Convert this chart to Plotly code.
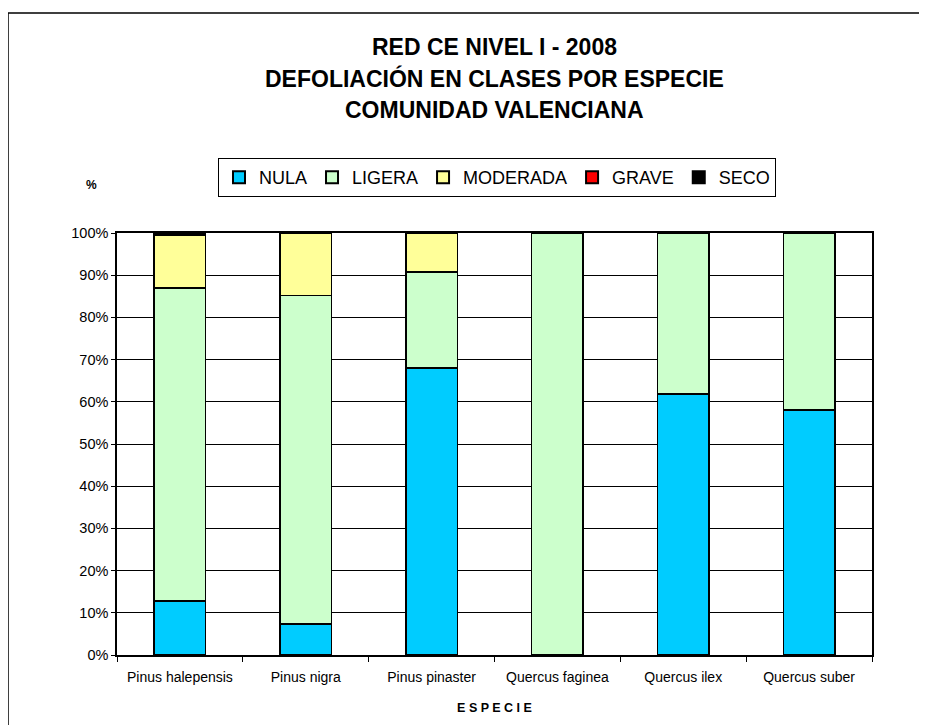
import plotly.graph_objects as go

especies = ["Pinus halepensis", "Pinus nigra", "Pinus pinaster",
            "Quercus faginea", "Quercus ilex", "Quercus suber"]
nula = [12.8, 7.4, 68.0, 0.0, 61.8, 58.1]
ligera = [74.2, 77.8, 22.8, 100.0, 38.2, 41.9]
moderada = [12.5, 14.8, 9.2, 0.0, 0.0, 0.0]
grave = [0.1, 0.0, 0.0, 0.0, 0.0, 0.0]
seco = [0.4, 0.0, 0.0, 0.0, 0.0, 0.0]

series = [
    ("NULA", nula, "#00CCFF"),
    ("LIGERA", ligera, "#CCFFCC"),
    ("MODERADA", moderada, "#FFFF99"),
    ("GRAVE", grave, "#FF0000"),
    ("SECO", seco, "#000000"),
]

FONT = "Liberation Sans, Arial, sans-serif"

fig = go.Figure()
for name, vals, col in series:
    fig.add_trace(go.Bar(
        x=especies, y=vals, name=name,
        marker=dict(color=col, line=dict(color="black", width=1.5)),
    ))

# page body has an 8px margin, so margins are shifted by that
fig.update_layout(
    barmode="stack",
    bargap=0.59,
    width=927, height=725,
    margin=dict(l=109, r=63, t=225, b=78),
    paper_bgcolor="white",
    plot_bgcolor="white",
    font=dict(family=FONT, color="black"),
    showlegend=True,
    legend=dict(
        orientation="h",
        x=(497 - 117) / 755, xanchor="center",
        y=(655 - 197) / 422, yanchor="bottom",
        font=dict(size=18, family=FONT),
        bordercolor="black", borderwidth=1,
        bgcolor="white",
        itemsizing="constant",
        traceorder="normal",
        itemwidth=30,
    ),
)

fig.update_yaxes(
    range=[0, 100], dtick=10, ticksuffix="%",
    showgrid=True, gridcolor="black", gridwidth=1,
    showline=True, linecolor="black", linewidth=1.5, mirror=True,
    ticks="outside", ticklen=4, tickcolor="black",
    tickfont=dict(size=14.5),
    zeroline=False,
)
fig.update_xaxes(
    showline=True, linecolor="black", linewidth=1.5, mirror=True,
    ticks="outside", ticklen=5, tickcolor="black", tickson="boundaries",
    tickfont=dict(size=14),
    ticklabelstandoff=8,
    title=dict(text="<b>E S P E C I E</b>", font=dict(size=12.5), standoff=20),
)

# title lines
for txt, yy in [("RED CE NIVEL I - 2008", 47),
                ("DEFOLIACIÓN EN CLASES POR ESPECIE", 78),
                ("COMUNIDAD VALENCIANA", 110)]:
    fig.add_annotation(
        text="<b>" + txt + "</b>", xref="paper", yref="paper",
        x=(494 - 117) / 755, y=(655 - yy) / 422,
        showarrow=False, font=dict(size=23, family=FONT),
        xanchor="center", yanchor="middle",
    )

fig.add_annotation(
    text="<b>%</b>", xref="paper", yref="paper",
    x=(91 - 117) / 755, y=(655 - 185) / 422,
    showarrow=False, font=dict(size=12, family=FONT),
    xanchor="center", yanchor="middle",
)

# outer chart frame
fig.add_shape(
    type="rect", xref="paper", yref="paper",
    x0=(8 - 117) / 755, x1=(935 - 117) / 755,
    y0=(655 - 735) / 422, y1=(655 - 13) / 422,
    line=dict(color="black", width=1.5), layer="below",
)

fig.write_html("out.html")
